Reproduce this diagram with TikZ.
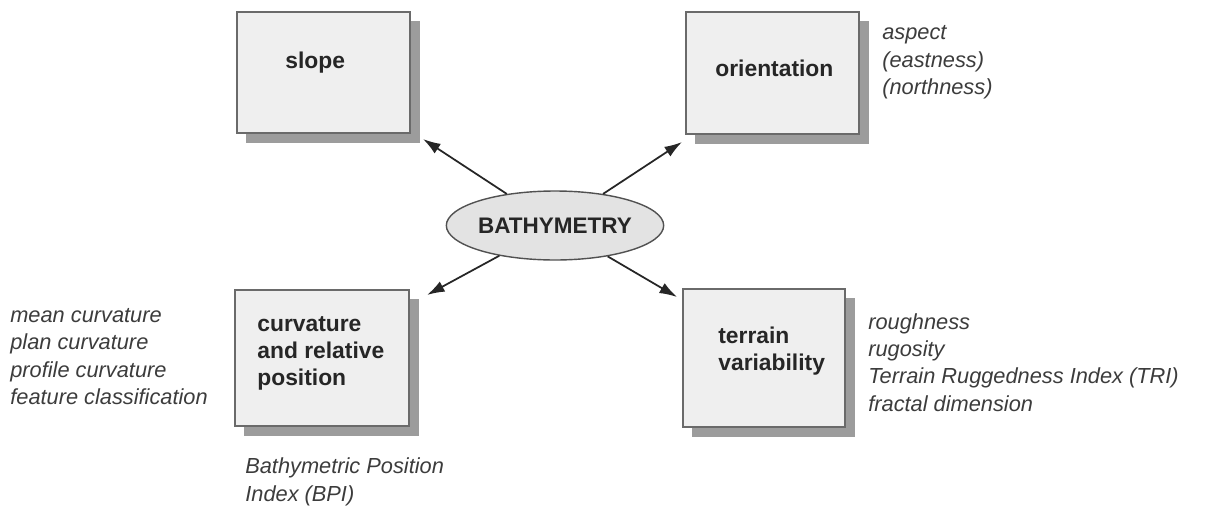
\documentclass[tikz,border=0pt]{standalone}
\usepackage{fontspec}
\setmainfont{Liberation Sans}
\usepackage{tikz}
\usetikzlibrary{arrows.meta,shapes.geometric,shadows}
\definecolor{ink}{HTML}{262626}
\definecolor{note}{HTML}{3C3C3C}
\definecolor{boxfill}{HTML}{EFEFEF}
\definecolor{boxline}{HTML}{6A6A6A}
\definecolor{shade}{HTML}{9C9C9C}
\definecolor{ovalfill}{HTML}{E3E3E3}

\begin{document}
\begin{tikzpicture}[x=0.02cm,y=-0.02cm,
  box/.style={draw=boxline,fill=boxfill,line width=0.8pt,inner sep=0pt,
    copy shadow={shadow xshift=5.4pt,shadow yshift=-5.4pt,fill=shade,draw=shade,opacity=1}},
  head/.style={anchor=west,align=left,inner sep=0pt,text=ink,
    font=\fontsize{13}{15.5}\selectfont\bfseries},
  note/.style={anchor=west,align=left,inner sep=0pt,text=note,
    font=\fontsize{12.4}{15.6}\selectfont\itshape},
  arr/.style={-{Latex[length=10pt,width=6.5pt]},line width=1pt,color=ink}]
  \useasboundingbox (0,0) rectangle (1220,507);
  % boxes
  \node[box,minimum width=3.46cm,minimum height=2.42cm] (slope) at (323.5,72.5) {};
  \node[box,minimum width=3.46cm,minimum height=2.44cm] (orient) at (772.5,73) {};
  \node[box,minimum width=3.48cm,minimum height=2.72cm] (curv) at (322,358) {};
  \node[box,minimum width=3.24cm,minimum height=2.76cm] (terrain) at (764,358) {};
  \node[head] (slopetxt) at (285,63) {slope};
  \node[head] (orienttxt) at (715,68) {orientation};
  \node[head] (curvtxt) at (257,353.5) {curvature\\and relative\\position};
  \node[head] (terraintxt) at (718,351) {terrain\\variability};
  % centre
  \node[ellipse,draw=ink!80,fill=ovalfill,line width=0.8pt,inner sep=0pt,
    minimum width=3.6cm,minimum height=1.38cm,text=ink,
    font=\fontsize{12.8}{15}\selectfont\bfseries] (bathy) at (555,225.5) {BATHYMETRY};
  \coordinate (tipNW) at (423,139);
  \coordinate (tipNE) at (682,142);
  \coordinate (tipSW) at (427,295);
  \coordinate (tipSE) at (677,297);
  \foreach \t in {tipNW,tipNE,tipSW,tipSE}
    \draw[arr] (bathy) -- (\t);
  % lists of derived variables
  \node[note] (orientlist) at (882,62.5) {aspect\\(eastness)\\(northness)};
  \node[note] (curvlist) at (10,356.5) {mean curvature\\plan curvature\\profile curvature\\feature classification};
  \node[note] (bpilist) at (245,482) {Bathymetric Position\\Index (BPI)};
  \node[note] (terrainlist) at (868,362.5) {roughness\\rugosity\\Terrain Ruggedness Index (TRI)\\fractal dimension};
\end{tikzpicture}
\end{document}
